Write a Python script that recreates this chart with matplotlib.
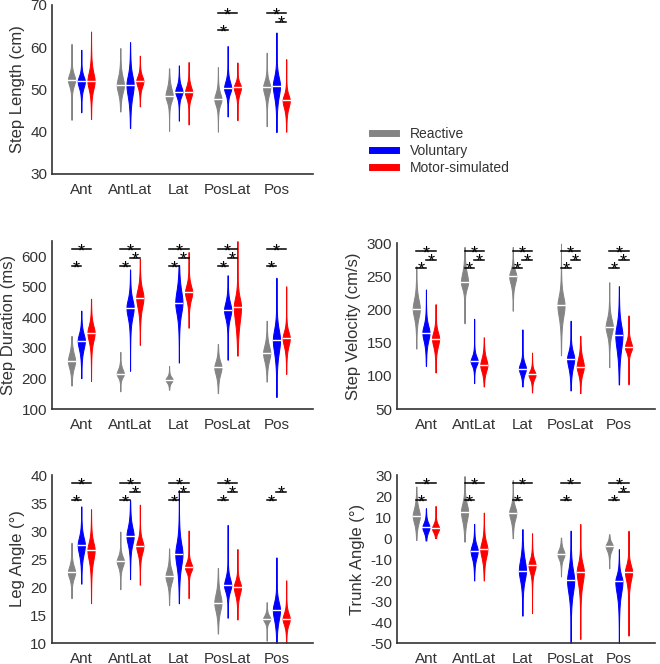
import numpy as np
import matplotlib.pyplot as plt
from matplotlib.lines import Line2D

plt.rcParams['font.family'] = ['Liberation Sans', 'DejaVu Sans']
plt.rcParams['axes.unicode_minus'] = False

directions = ['Ant', 'AntLat', 'Lat', 'PosLat', 'Pos']
conditions = ['Reactive', 'Voluntary', 'Motor-simulated']
colors = ['#848484', '#0000ff', '#ff0000']

# rows = Reactive, Voluntary, Motor-simulated ; cols = directions
# step length (cm)
sl_lo = [[42.8, 44.8, 40.2, 40.0, 41.3],
         [44.6, 40.9, 42.6, 43.6, 39.9],
         [43.0, 46.0, 41.7, 42.7, 40.0]]
sl_q1 = [[50.5, 48.7, 46.8, 46.0, 48.3],
         [50.0, 47.6, 48.0, 48.7, 47.6],
         [49.5, 50.3, 47.6, 48.7, 45.2]]
sl_med = [[52.3, 51.0, 48.5, 47.7, 50.5],
          [51.9, 51.1, 49.5, 50.3, 50.9],
          [52.0, 52.0, 49.3, 50.5, 47.4]]
sl_q3 = [[54.0, 53.5, 50.7, 49.5, 52.3],
         [53.5, 53.9, 51.1, 52.3, 53.5],
         [54.6, 53.5, 51.1, 51.8, 49.1]]
sl_hi = [[60.8, 59.8, 55.0, 55.3, 58.7],
         [59.4, 61.2, 55.7, 60.3, 63.5],
         [63.7, 58.0, 56.5, 56.4, 57.2]]

# step duration (ms)
sd_lo = [[177, 158, 163, 152, 190],
         [201, 225, 252, 261, 139],
         [192, 310, 366, 275, 215]]
sd_q1 = [[228, 201, 185, 207, 250],
         [288, 391, 402, 391, 272],
         [315, 424, 451, 370, 299]]
sd_med = [[257, 215, 196, 236, 283],
          [324, 432, 448, 424, 326],
          [350, 465, 482, 435, 332]]
sd_q3 = [[288, 234, 207, 261, 315],
         [353, 467, 500, 456, 370],
         [380, 500, 511, 473, 359]]
sd_hi = [[339, 287, 241, 313, 389],
         [422, 557, 571, 538, 530],
         [461, 592, 614, 650, 502]]

# step velocity (cm/s)
sv_lo = [[141, 179, 198, 131, 113],
         [115, 89, 84, 78, 87],
         [105, 84, 75, 74, 87]]
sv_q1 = [[184, 229, 236, 184, 159],
         [149, 114, 101, 109, 134],
         [141, 104, 94, 101, 134]]
sv_med = [[201, 241, 250, 206, 174],
          [165, 122, 111, 126, 161],
          [156, 116, 102, 114, 143]]
sv_q3 = [[219, 259, 261, 224, 189],
         [179, 131, 121, 139, 181],
         [169, 129, 109, 129, 154]]
sv_hi = [[265, 294, 294, 299, 241],
         [230, 186, 170, 183, 235],
         [208, 158, 135, 160, 191]]

# leg angle (deg)
la_lo = [[18.0, 19.6, 16.8, 11.7, 10.4],
         [20.6, 21.4, 17.1, 14.5, 10.0],
         [17.1, 20.4, 18.0, 14.2, 10.0]]
la_q1 = [[21.3, 23.4, 20.4, 15.3, 13.6],
         [25.4, 27.2, 23.1, 18.9, 13.6],
         [24.3, 25.7, 22.5, 18.3, 13.0]]
la_med = [[22.6, 24.6, 21.9, 17.2, 14.3],
          [27.5, 29.1, 25.9, 20.3, 15.9],
          [26.6, 27.3, 23.5, 20.0, 14.3]]
la_q3 = [[24.0, 25.7, 23.4, 19.2, 15.1],
         [29.3, 31.1, 28.4, 21.9, 17.7],
         [28.4, 28.7, 24.6, 21.3, 15.6]]
la_hi = [[27.9, 29.9, 26.9, 23.4, 17.3],
         [34.4, 35.5, 37.3, 31.1, 25.3],
         [33.9, 34.7, 30.1, 26.8, 21.2]]

# trunk angle (deg)
ta_lo = [[-0.9, -1.7, -0.1, -18.3, -14.4],
         [-1.2, -20.2, -37.0, -50.0, -50.0],
         [0.0, -20.2, -35.8, -48.1, -46.5]]
ta_q1 = [[6.2, 7.0, 7.8, -10.4, -6.5],
         [2.3, -10.4, -21.5, -27.8, -27.8],
         [2.3, -10.4, -16.8, -23.1, -21.5]]
ta_med = [[10.5, 12.6, 12.1, -7.7, -3.8],
          [5.1, -6.1, -15.5, -20.2, -20.7],
          [4.6, -5.3, -13.0, -16.0, -16.0]]
ta_q3 = [[15.0, 17.3, 15.7, -4.9, -1.7],
         [7.8, -2.5, -8.8, -13.6, -16.8],
         [7.0, -0.9, -9.6, -11.2, -12.0]]
ta_hi = [[24.5, 29.5, 27.6, 0.2, 1.8],
         [14.2, 6.7, 4.2, 3.5, -5.3],
         [15.3, 12.1, 2.3, 6.7, 3.5]]

# significant pairs: (direction, condition a, condition b)
sl_sig = [(3, 0, 1), (3, 0, 2), (4, 0, 2), (4, 1, 2)]
sd_sig = [(0, 0, 1), (0, 0, 2),
          (1, 0, 1), (1, 1, 2), (1, 0, 2),
          (2, 0, 1), (2, 1, 2), (2, 0, 2),
          (3, 0, 1), (3, 1, 2), (3, 0, 2),
          (4, 0, 1), (4, 0, 2)]
sv_sig = [(d, a, b) for d in range(5) for a, b in [(0, 1), (1, 2), (0, 2)]]
la_sig = [(0, 0, 1), (0, 0, 2),
          (1, 0, 1), (1, 1, 2), (1, 0, 2),
          (2, 0, 1), (2, 1, 2), (2, 0, 2),
          (3, 0, 1), (3, 1, 2), (3, 0, 2),
          (4, 0, 1), (4, 1, 2)]
ta_sig = [(0, 0, 1), (0, 0, 2), (1, 0, 1), (1, 0, 2),
          (2, 0, 1), (2, 0, 2), (3, 0, 1), (3, 0, 2),
          (4, 0, 1), (4, 1, 2), (4, 0, 2)]

offsets = [-0.2, 0.0, 0.2]
half_w = 0.074
bar_level = {(0, 1): 0.85, (1, 2): 0.90, (0, 2): 0.95}
txt = '#333333'


def violin(ax, x, lo, q1, med, q3, hi, hw, color):
    y = np.linspace(lo, hi, 300)
    s = np.where(y < med, med - q1, q3 - med) * 1.55
    w = hw / (1 + ((y - med) / s) ** 2) ** 2
    ax.fill_betweenx(y, x - w, x + w, color=color, lw=0.7)
    ax.plot([x - hw, x + hw], [med, med], color='white', lw=1)


def panel(ax, lo, q1, med, q3, hi, sig, ylabel, ylim, yticks):
    for c in range(3):
        for d in range(5):
            violin(ax, d + 1 + offsets[c], lo[c][d], q1[c][d], med[c][d],
                   q3[c][d], hi[c][d], half_w, colors[c])
    trans = ax.get_xaxis_transform()
    for d, a, b in sig:
        x0 = d + 1 + offsets[a]
        x1 = d + 1 + offsets[b]
        yy = bar_level[(a, b)]
        ax.plot([x0, x1], [yy, yy], color='black', lw=1.1, transform=trans,
                clip_on=False)
        ax.annotate('*', ((x0 + x1) / 2, yy), xycoords=trans,
                    xytext=(0, -5), textcoords='offset points',
                    ha='center', va='baseline', fontsize=13, color='black')
    ax.set_xlim(0.4, 5.75)
    ax.set_ylim(*ylim)
    ax.set_yticks(yticks)
    ax.set_xticks(range(1, 6))
    ax.set_xticklabels(directions)
    for s in ['top', 'right']:
        ax.spines[s].set_visible(False)
    for s in ['left', 'bottom']:
        ax.spines[s].set_color(txt)
        ax.spines[s].set_linewidth(1.2)
    ax.tick_params(length=0, labelsize=11, colors=txt)
    ax.tick_params(axis='x', pad=6.5)
    ax.tick_params(axis='y', pad=3.5)
    ax.set_ylabel(ylabel, fontsize=12, color=txt)


fig = plt.figure(figsize=(6.6, 6.64), dpi=100)
ax1 = fig.add_axes([0.0788, 0.738, 0.3955, 0.2545])
ax2 = fig.add_axes([0.0788, 0.384, 0.3955, 0.253])
ax3 = fig.add_axes([0.6015, 0.384, 0.391, 0.25])
ax4 = fig.add_axes([0.0788, 0.0316, 0.3955, 0.253])
ax5 = fig.add_axes([0.6015, 0.0316, 0.391, 0.253])

panel(ax1, sl_lo, sl_q1, sl_med, sl_q3, sl_hi, sl_sig,
      'Step Length (cm)', (30, 70), range(30, 71, 10))
panel(ax2, sd_lo, sd_q1, sd_med, sd_q3, sd_hi, sd_sig,
      'Step Duration (ms)', (100, 650), range(100, 601, 100))
panel(ax3, sv_lo, sv_q1, sv_med, sv_q3, sv_hi, sv_sig,
      'Step Velocity (cm/s)', (50, 300), range(50, 301, 50))
panel(ax4, la_lo, la_q1, la_med, la_q3, la_hi, la_sig,
      'Leg Angle (°)', (10, 40), range(10, 41, 5))
panel(ax5, ta_lo, ta_q1, ta_med, ta_q3, ta_hi, ta_sig,
      'Trunk Angle (°)', (-50, 30), range(-50, 31, 10))

handles = [Line2D([], [], color=c, lw=5) for c in colors]
fig.legend(handles, conditions, loc='center left',
           bbox_to_anchor=(0.5636, 0.7726), frameon=False, fontsize=10,
           handlelength=1.75, handletextpad=1.0, labelspacing=0.2,
           borderpad=0, borderaxespad=0, labelcolor=txt)

fig.savefig('out.png', dpi=100)
